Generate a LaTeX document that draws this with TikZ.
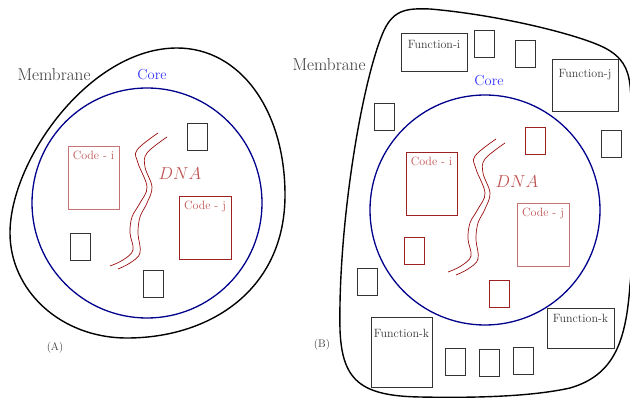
\documentclass[tikz,border=0pt]{standalone}
\usetikzlibrary{calc}
\definecolor{navyc}{rgb}{0,0,0.55}
\definecolor{corec}{rgb}{0.2,0.2,1}
\definecolor{rlight}{rgb}{0.78,0.45,0.45}
\definecolor{rdark}{rgb}{0.62,0.13,0.13}
\definecolor{rtext}{rgb}{0.75,0.32,0.32}
\definecolor{dnac}{rgb}{0.6,0.05,0.05}
\definecolor{graytext}{rgb}{0.22,0.22,0.22}
\tikzset{
  membr/.style={draw=black, line width=1.4pt},
  corecirc/.style={draw=navyc, line width=1.3pt},
  sbox/.style={draw=black!80, line width=0.6pt, minimum width=20pt, minimum height=27pt, inner sep=0pt, outer sep=0pt},
  rsbox/.style={sbox, draw=rdark},
  cbox/.style={draw, line width=0.7pt, minimum width=52pt, minimum height=63pt, inner sep=0pt, outer sep=0pt},
  fbox/.style={draw=black!80, line width=0.7pt, inner sep=0pt, outer sep=0pt},
  boxtxt/.style={anchor=mid, inner sep=0pt, font=\fontsize{12}{14}\selectfont},
  bigtxt/.style={font=\fontsize{17.2}{20}\selectfont, text=graytext, inner sep=0pt},
  coretxt/.style={font=\fontsize{14.5}{17}\selectfont, text=corec, inner sep=0pt},
  dnatxt/.style={font=\fontsize{16}{19}\selectfont, text=rtext, inner sep=0pt},
  dna/.style={draw=dnac, line width=0.7pt},
  captxt/.style={font=\fontsize{11}{13}\selectfont, text=graytext, inner sep=0pt}
}
\begin{document}
\begin{tikzpicture}[x=1pt,y=-1pt]
\useasboundingbox (0,0) rectangle (630,398);

% ---------------- (A) ----------------
\draw[membr] (177,48) .. controls (240,48) and (285,110) .. (285,195)
  .. controls (285,290) and (210,338) .. (127,338)
  .. controls (60,338) and (10,290) .. (10,233)
  .. controls (10,160) and (90,48) .. (177,48) -- cycle;
\node[circle, corecirc, minimum size=230pt, inner sep=0pt] (coreA) at (147,203) {};
\node[bigtxt] (memA) at (54,75) {Membrane};
\node[coretxt] (cortA) at (152,75) {Core};

\node[cbox, draw=rlight, minimum width=51pt] (ciA) at (93.5,177.5) {};
\node[boxtxt, text=rtext] (ciAt) at ([yshift=-11pt]ciA.north) {Code - i};
\node[cbox, draw=rdark] (cjA) at (205,227.5) {};
\node[boxtxt, text=rtext] (cjAt) at ([yshift=-11pt]cjA.north) {Code - j};

\node[sbox] (a1) at (197,136.5) {};
\node[sbox] (a2) at (80,246.5) {};
\node[sbox] (a3) at (153,284) {};

\draw[dna] plot[smooth, tension=0.6] coordinates {(158,133) (137,150) (138,163) (147,187) (140,203) (132,217) (130,233) (133,250) (123,260) (110,266)};
\draw[dna] plot[smooth, tension=0.6] coordinates {(167,137) (147,153) (145,167) (152,187) (147,203) (140,217) (138,233) (140,253) (130,263) (118,269)};
\node[dnatxt] (dnaA) at (180,174) {$DNA$};
\node[captxt] (capA) at (55,348) {(A)};

% ---------------- (B) ----------------
\draw[membr] (340,330) .. controls (338,230) and (360,90) .. (382,35)
  .. controls (392,10) and (405,8) .. (430,9)
  .. controls (500,15) and (580,35) .. (605,48)
  .. controls (622,57) and (628,68) .. (630,85)
  .. controls (636,150) and (636,230) .. (630,285)
  .. controls (626,340) and (615,375) .. (570,388)
  .. controls (530,397) and (470,398) .. (420,397)
  .. controls (360,396) and (342,380) .. (340,330) -- cycle;
\node[circle, corecirc, minimum size=230pt, inner sep=0pt] (coreB) at (485,210) {};
\node[bigtxt] (memB) at (329,65) {Membrane};
\node[coretxt] (cortB) at (489,81) {Core};

\node[cbox, draw=rdark, minimum width=51pt] (ciB) at (431.5,183.5) {};
\node[boxtxt, text=rtext] (ciBt) at ([yshift=-11pt]ciB.north) {Code - i};
\node[cbox, draw=rlight] (cjB) at (543,234.5) {};
\node[boxtxt, text=rtext] (cjBt) at ([yshift=-11pt]cjB.north) {Code - j};

\node[rsbox] (r1) at (535,141) {};
\node[rsbox] (r2) at (414,251) {};
\node[rsbox] (r3) at (499,293.5) {};

\node[sbox] (b1) at (484.5,44) {};
\node[sbox] (b2) at (525,54) {};
\node[sbox] (b3) at (384,116.5) {};
\node[sbox] (b4) at (611,143.5) {};
\node[sbox] (b5) at (367,282) {};
\node[sbox] (b6) at (455,362) {};
\node[sbox] (b7) at (489,363) {};
\node[sbox] (b8) at (523,361) {};

\node[fbox, minimum width=66pt, minimum height=38pt] (fi) at (434,52) {};
\node[boxtxt, text=graytext] (fit) at ([yshift=-13pt]fi.north) {Function-i};
\node[fbox, minimum width=66pt, minimum height=52pt] (fj) at (585,85) {};
\node[boxtxt, text=graytext] (fjt) at ([yshift=-16pt]fj.north) {Function-j};
\node[fbox, minimum width=61pt, minimum height=70pt] (fk1) at (401.5,352) {};
\node[boxtxt, text=graytext] (fk1t) at ([yshift=-18pt]fk1.north) {Function-k};
\node[fbox, minimum width=67pt, minimum height=40pt] (fk2) at (580.5,328) {};
\node[boxtxt, text=graytext] (fk2t) at ([yshift=-12pt]fk2.north) {Function-k};

\draw[dna] plot[smooth, tension=0.6] coordinates {(496,139) (475,156) (476,169) (485,193) (478,209) (470,223) (468,239) (471,256) (461,266) (448,272)};
\draw[dna] plot[smooth, tension=0.6] coordinates {(505,143) (485,159) (483,173) (490,193) (485,209) (478,223) (476,239) (478,259) (468,269) (456,275)};
\node[dnatxt] (dnaB) at (517,182) {$DNA$};
\node[captxt] (capB) at (322,345) {(B)};
\end{tikzpicture}
\end{document}
